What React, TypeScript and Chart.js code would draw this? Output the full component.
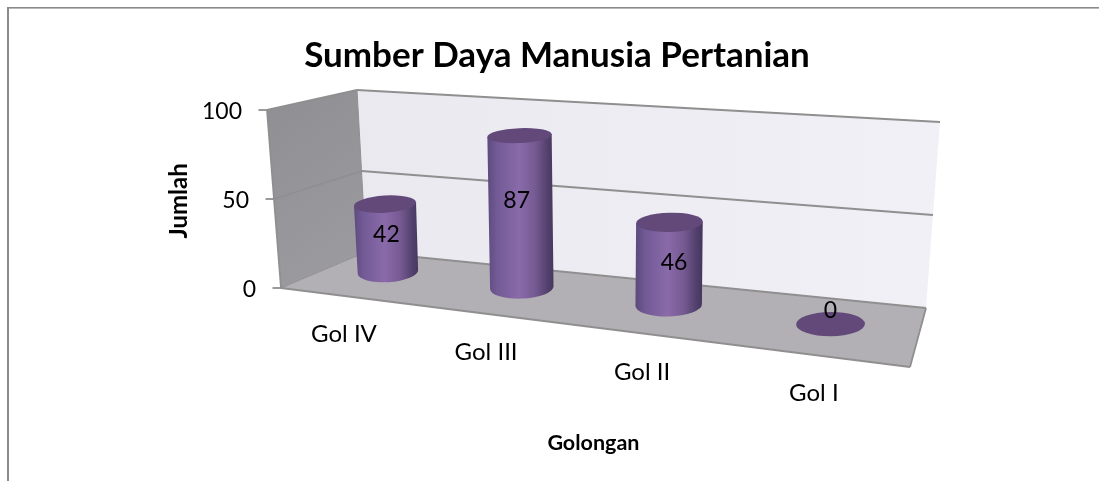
import React, { useEffect, useRef } from "react";
import { Chart, registerables } from "chart.js";

Chart.register(...registerables);

const categories = ["Gol IV", "Gol III", "Gol II", "Gol I"];
const values = [42, 87, 46, 0];
const yTicks = { min: 0, max: 100, step: 50 };
const chartTitle = "Sumber Daya Manusia Pertanian";
const yTitle = "Jumlah";
const xTitle = "Golongan";

const FONT = "Lato, Carlito, Calibri, sans-serif";
const NUM_SIZE = 23;
const CAT_SIZE = 24;

// Picture of the 3D box, in canvas pixels
const FL = [281, 288], FR = [910, 367], BL = [366, 252], BR = [926, 308];
const FLT = [267, 110], BLT = [357, 90], BRT = [940, 122];
const MID_L = [325.3, 264.5], MID_R = [917.8, 334.4];
const PERSP = -0.173;
const LABEL_NUDGE = [[0, -3], [-4, -11], [5, -1.5], [0, -14]];

const lerp = (a: number[], b: number[], t: number) => [a[0] + (b[0] - a[0]) * t, a[1] + (b[1] - a[1]) * t];
const along = (a: number[], b: number[], u: number) => {
  const d = 1 + PERSP * u;
  return [(a[0] + (b[0] * (1 + PERSP) - a[0]) * u) / d, (a[1] + (b[1] * (1 + PERSP) - a[1]) * u) / d];
};
const riseOf = (u: number, h: number) => (153 + 35 * u) * h * (1 + 0.06 * h);
const leanOf = (u: number, h: number) => (-9 + 17 * u) * h;

const poly = (ctx: CanvasRenderingContext2D, pts: number[][]) => {
  ctx.beginPath();
  pts.forEach((p, i) => (i ? ctx.lineTo(p[0], p[1]) : ctx.moveTo(p[0], p[1])));
};
const seg = (ctx: CanvasRenderingContext2D, a: number[], b: number[]) => {
  ctx.beginPath();
  ctx.moveTo(a[0], a[1]);
  ctx.lineTo(b[0], b[1]);
  ctx.stroke();
};

const box3d = {
  id: "box3d",
  beforeDatasetsDraw(chart: any) {
    const { ctx, scales, chartArea, width, height } = chart;
    const y = scales.y;
    const hOf = (v: number) => (chartArea.bottom - y.getPixelForValue(v)) / chartArea.height;
    const EDGE = "#8f8f8f";
    ctx.save();

    // frame of the picture
    ctx.fillStyle = "#8a8a8a";
    ctx.fillRect(7, 7, width - 7, 1.6);
    ctx.fillRect(7, 7, 2, height - 7);

    // back wall
    let g = ctx.createLinearGradient(BLT[0], 0, BRT[0], 0);
    g.addColorStop(0, "#eae9f0");
    g.addColorStop(1, "#f1f0f6");
    ctx.fillStyle = g;
    poly(ctx, [BL, BLT, BRT, BR]);
    ctx.fill();

    // left wall
    g = ctx.createLinearGradient(FLT[0], FLT[1], BL[0], BL[1]);
    g.addColorStop(0, "#908f93");
    g.addColorStop(1, "#9b9a9e");
    ctx.fillStyle = g;
    poly(ctx, [FL, FLT, BLT, BL]);
    ctx.fill();

    // floor
    ctx.fillStyle = "#b3b0b5";
    poly(ctx, [FL, FR, BR, BL]);
    ctx.fill();

    ctx.strokeStyle = EDGE;
    ctx.lineWidth = 1.8;
    ctx.lineJoin = "round";
    seg(ctx, FL, FR);
    seg(ctx, FR, BR);
    seg(ctx, FL, FLT);
    seg(ctx, FLT, BLT);
    seg(ctx, BLT, BRT);
    seg(ctx, BL, BR);
    ctx.lineWidth = 1;
    seg(ctx, BLT, BL);
    seg(ctx, FL, BL);
    ctx.lineWidth = 1.8;

    // grid lines and value axis
    ctx.fillStyle = "#000";
    ctx.font = `${NUM_SIZE}px ${FONT}`;
    ctx.textAlign = "right";
    ctx.textBaseline = "middle";
    y.ticks.forEach((t: any) => {
      const h = hOf(t.value);
      const a = lerp(FL, FLT, h);
      const b = lerp(BL, BLT, h);
      const c = lerp(BR, BRT, h);
      if (h > 0 && h < 1) {
        seg(ctx, a, b);
        seg(ctx, b, c);
      }
      seg(ctx, [a[0] - 8.5, a[1]], a);
      ctx.fillText(String(t.label), a[0] - 25, a[1] + 1.5);
    });

    // category labels
    ctx.font = `${CAT_SIZE}px ${FONT}`;
    ctx.textAlign = "center";
    categories.forEach((c, i) => {
      const u = (scales.x.getPixelForValue(i) - chartArea.left) / chartArea.width;
      const p = along(FL, FR, u);
      ctx.fillText(c, p[0] - 3.5, p[1] + 38);
    });
    ctx.restore();
  },
  afterDatasetsDraw(chart: any) {
    const { ctx, scales, chartArea } = chart;
    ctx.save();
    const data = chart.data.datasets[0].data as number[];
    data.forEach((v, i) => {
      const u = (scales.x.getPixelForValue(i) - chartArea.left) / chartArea.width;
      const h = (chartArea.bottom - scales.y.getPixelForValue(v)) / chartArea.height;
      const base = along(MID_L, MID_R, u);
      const top = [base[0] + leanOf(u, h), base[1] - riseOf(u, h)];
      const rxB = 29.5 + 6 * u;
      const rxT = 30.5 + 4.5 * u;
      const ryB = 10 + 2.4 * u;
      const ryT = ryB - 4 * h;
      const rot = -(1 - u) * 0.07;

      if (h > 0) {
        const cosB = Math.cos(rot), sinB = Math.sin(rot);
        const g = ctx.createLinearGradient(top[0] - rxT, 0, base[0] + rxB, 0);
        g.addColorStop(0, "#5d4a7e");
        g.addColorStop(0.14, "#725a95");
        g.addColorStop(0.48, "#8a6aaa");
        g.addColorStop(0.72, "#765a92");
        g.addColorStop(0.93, "#4f3e69");
        g.addColorStop(1, "#47375e");
        ctx.fillStyle = g;
        ctx.beginPath();
        ctx.moveTo(top[0] - rxT * cosB, top[1] - rxT * sinB);
        ctx.lineTo(base[0] - rxB * cosB, base[1] - rxB * sinB);
        ctx.ellipse(base[0], base[1], rxB, ryB, rot, Math.PI, 0, true);
        ctx.lineTo(top[0] + rxT * cosB, top[1] + rxT * sinB);
        ctx.closePath();
        ctx.fill();
      }
      ctx.fillStyle = "#62497a";
      ctx.beginPath();
      ctx.ellipse(top[0], top[1], rxT, ryT, rot, 0, Math.PI * 2);
      ctx.fill();
    });

    ctx.fillStyle = "#000";
    ctx.font = `${NUM_SIZE}px ${FONT}`;
    ctx.textAlign = "center";
    ctx.textBaseline = "middle";
    data.forEach((v, i) => {
      const u = (scales.x.getPixelForValue(i) - chartArea.left) / chartArea.width;
      const h = (chartArea.bottom - scales.y.getPixelForValue(v)) / chartArea.height;
      const base = along(MID_L, MID_R, u);
      ctx.fillText(
        String(v),
        base[0] + leanOf(u, h) / 2 + LABEL_NUDGE[i][0],
        base[1] - riseOf(u, h) / 2 + LABEL_NUDGE[i][1]
      );
    });
    ctx.restore();
  },
};

export default function App() {
  const ref = useRef<HTMLCanvasElement>(null);
  useEffect(() => {
    const chart = new Chart(ref.current as HTMLCanvasElement, {
      type: "bar",
      data: {
        labels: categories,
        datasets: [{ label: yTitle, data: values, backgroundColor: "transparent", borderWidth: 0 }],
      },
      plugins: [box3d],
      options: {
        animation: false,
        responsive: false,
        layout: { padding: { left: 16, right: 1, top: 0, bottom: 0 } },
        plugins: {
          legend: { display: false },
          tooltip: { enabled: false },
          title: {
            display: true,
            text: chartTitle,
            color: "#000",
            font: { family: FONT, size: 35, weight: "bold", lineHeight: 1.2 },
            padding: { top: 35, bottom: 44 },
          },
        },
        scales: {
          x: {
            type: "category",
            grid: { display: false },
            border: { display: false },
            ticks: { display: false },
            title: {
              display: true,
              text: xTitle,
              color: "#000",
              font: { family: FONT, size: 21.5, weight: "bold", lineHeight: 1.2 },
              padding: { top: 141.5, bottom: 25 },
            },
          },
          y: {
            type: "linear",
            min: yTicks.min,
            max: yTicks.max,
            grid: { display: false },
            border: { display: false },
            ticks: { display: false, stepSize: yTicks.step },
            title: {
              display: true,
              text: yTitle,
              color: "#000",
              font: { family: FONT, size: 24, weight: "bold", lineHeight: 1.2 },
              padding: { top: 149, bottom: 91 },
            },
          },
          spacer: {
            type: "linear",
            position: "right",
            display: true,
            grid: { display: false },
            border: { display: false },
            ticks: { display: false },
            afterFit: (s: any) => {
              s.width = 204;
            },
          },
        },
      } as any,
    });
    return () => chart.destroy();
  }, []);
  return (
    <div style={{ position: "fixed", left: 0, top: 0, width: 1099, height: 481, background: "#fff" }}>
      <canvas ref={ref} width={1099} height={481} style={{ display: "block" }} />
    </div>
  );
}
